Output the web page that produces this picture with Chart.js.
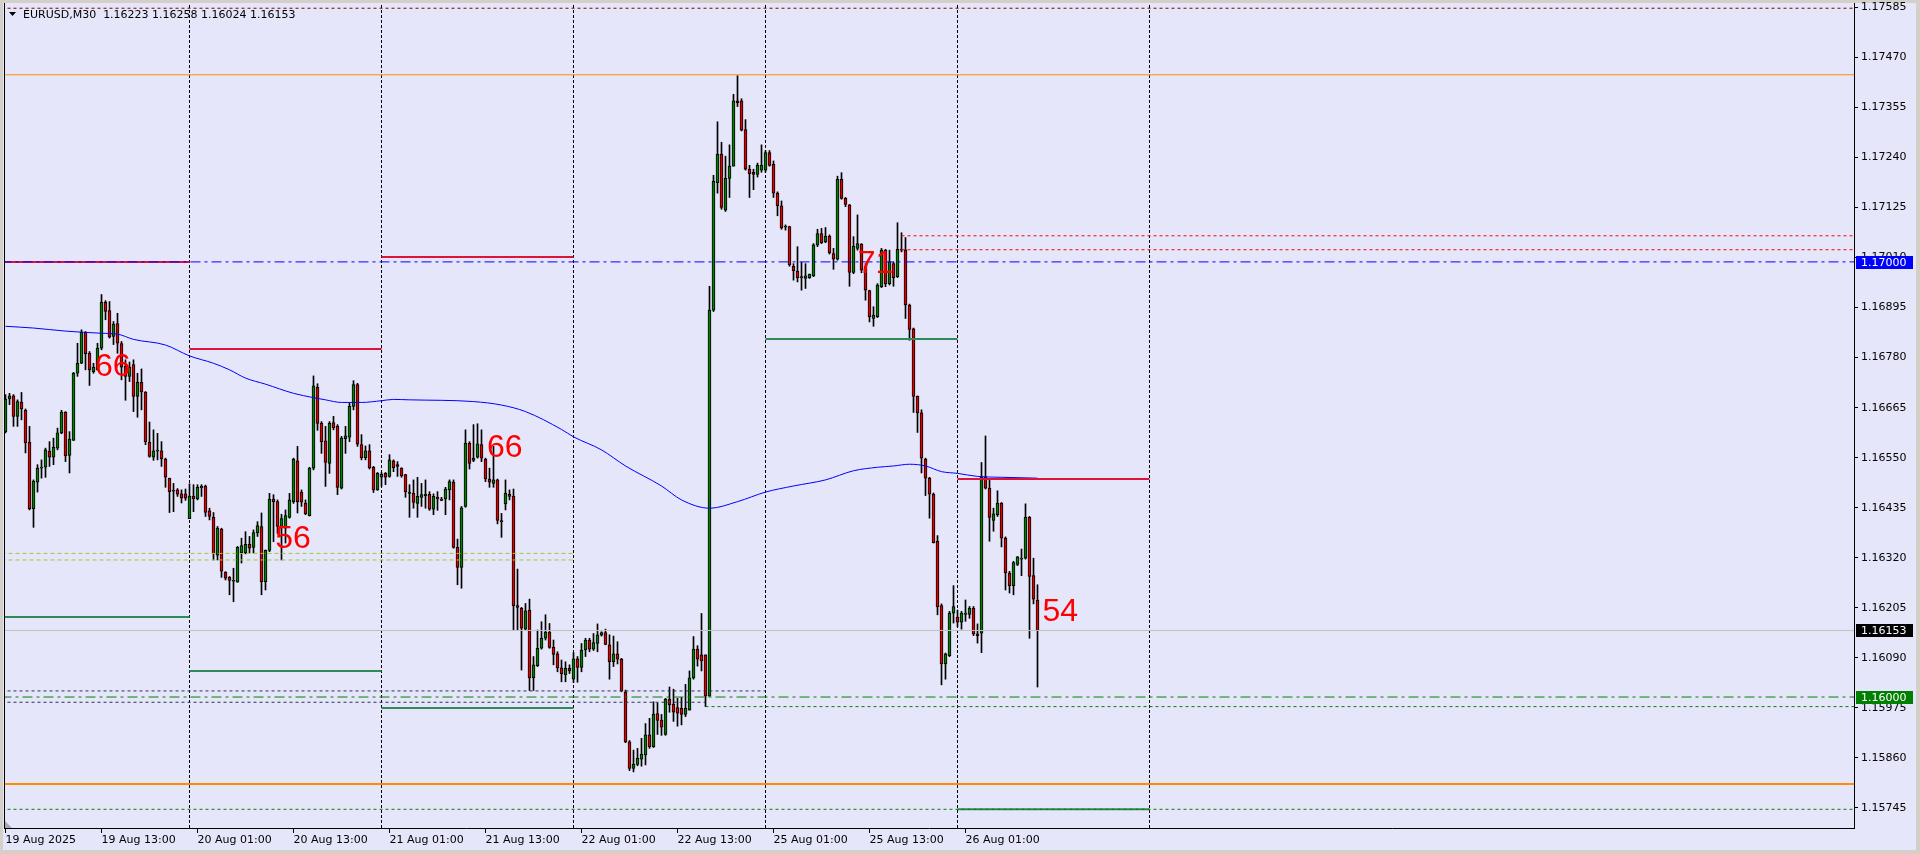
<!DOCTYPE html>
<html>
<head>
<meta charset="utf-8">
<title>EURUSD,M30</title>
<script src="https://cdn.jsdelivr.net/npm/chart.js@4.4.1/dist/chart.umd.min.js"></script>
<style>
    html, body { margin: 0; padding: 0; background: #E6E6FA; overflow: hidden; }
    #wrap { width: 1920px; height: 854px; }
</style>
</head>
<body>
<div id="wrap"><canvas id="priceChart" width="1920" height="854"></canvas></div>
<script>
// EURUSD M30 bars, 19 Aug 2025 01:00 .. 26 Aug 2025 10:00
const open = [
    1.16610,1.16685,1.16692,1.16645,1.16678,1.16659,1.16586,1.16433,1.16494,1.16526,
    1.16528,1.16565,1.16551,1.16572,1.16607,1.16654,1.16555,1.16590,1.16744,1.16767,
    1.16838,1.16790,1.16748,1.16752,1.16802,1.16907,1.16888,1.16829,1.16858,1.16812,
    1.16760,1.16737,1.16764,1.16691,1.16723,1.16701,1.16586,1.16551,1.16565,1.16566,
    1.16547,1.16503,1.16475,1.16476,1.16467,1.16467,1.16410,1.16462,1.16455,1.16481,
    1.16485,1.16428,1.16413,1.16326,1.16386,1.16287,1.16275,1.16266,1.16264,1.16332,
    1.16331,1.16351,1.16344,1.16377,1.16392,1.16265,1.16337,1.16455,1.16449,1.16392,
    1.16388,1.16413,1.16449,1.16543,1.16471,1.16445,1.16417,1.16526,1.16712,1.16629,
    1.16589,1.16537,1.16631,1.16622,1.16480,1.16594,1.16597,1.16668,1.16718,1.16580,
    1.16550,1.16566,1.16528,1.16476,1.16505,1.16514,1.16507,1.16543,1.16534,1.16526,
    1.16511,1.16468,1.16468,1.16445,1.16459,1.16463,1.16466,1.16432,1.16459,1.16455,
    1.16455,1.16476,1.16494,1.16344,1.16298,1.16438,1.16583,1.16544,1.16551,1.16580,
    1.16547,1.16501,1.16491,1.16499,1.16405,1.16444,1.16466,1.16462,1.16210,1.16204,
    1.16156,1.16200,1.16044,1.16072,1.16112,1.16135,1.16149,1.16114,1.16099,1.16067,
    1.16051,1.16066,1.16041,1.16088,1.16068,1.16108,1.16131,1.16110,1.16123,1.16142,
    1.16148,1.16120,1.16081,1.16099,1.16087,1.16012,1.15897,1.15836,1.15845,1.15857,
    1.15867,1.15913,1.15886,1.15962,1.15947,1.15914,1.15995,1.15984,1.15976,1.15974,
    1.15960,1.15970,1.16044,1.16110,1.16097,1.16097,1.16002,1.16889,1.17182,1.17248,
    1.17119,1.17192,1.17220,1.17370,1.17370,1.17304,1.17213,1.17206,1.17201,1.17211,
    1.17211,1.17251,1.17224,1.17158,1.17129,1.17080,1.17081,1.16990,1.16979,1.16966,
    1.16962,1.16964,1.16968,1.17039,1.17065,1.17046,1.17059,1.17019,1.17006,1.17190,
    1.17146,1.17131,1.16976,1.17031,1.17041,1.16989,1.16934,1.16870,1.16874,1.16943,
    1.17027,1.16950,1.16996,1.16966,1.17029,1.17027,1.16901,1.16846,1.16691,1.16653,
    1.16547,1.16503,1.16466,1.16358,1.16210,1.16076,1.16095,1.16193,1.16184,1.16172,
    1.16190,1.16190,1.16204,1.16145,1.16147,1.16505,1.16480,1.16406,1.16419,1.16446,
    1.16365,1.16285,1.16256,1.16305,1.16317,1.16319,1.16413,1.16279,1.16223
];
const high = [
    1.16695,1.16698,1.16695,1.16683,1.16700,1.16662,1.16622,1.16499,1.16534,1.16545,
    1.16572,1.16587,1.16595,1.16618,1.16659,1.16656,1.16610,1.16746,1.16813,1.16844,
    1.16840,1.16794,1.16767,1.16813,1.16925,1.16911,1.16909,1.16863,1.16882,1.16817,
    1.16775,1.16770,1.16775,1.16744,1.16754,1.16702,1.16632,1.16614,1.16606,1.16587,
    1.16549,1.16503,1.16491,1.16479,1.16476,1.16478,1.16490,1.16488,1.16488,1.16488,
    1.16487,1.16434,1.16424,1.16392,1.16388,1.16288,1.16277,1.16296,1.16346,1.16365,
    1.16380,1.16369,1.16384,1.16403,1.16423,1.16338,1.16468,1.16465,1.16453,1.16420,
    1.16430,1.16468,1.16549,1.16576,1.16476,1.16453,1.16528,1.16738,1.16720,1.16633,
    1.16622,1.16633,1.16645,1.16626,1.16599,1.16622,1.16675,1.16727,1.16721,1.16603,
    1.16577,1.16580,1.16530,1.16516,1.16516,1.16516,1.16557,1.16545,1.16541,1.16527,
    1.16512,1.16488,1.16499,1.16505,1.16491,1.16499,1.16472,1.16467,1.16472,1.16459,
    1.16482,1.16499,1.16499,1.16363,1.16438,1.16614,1.16587,1.16626,1.16628,1.16614,
    1.16549,1.16526,1.16576,1.16501,1.16422,1.16499,1.16476,1.16478,1.16294,1.16206,
    1.16215,1.16225,1.16093,1.16154,1.16173,1.16189,1.16169,1.16131,1.16104,1.16085,
    1.16081,1.16074,1.16102,1.16093,1.16123,1.16135,1.16135,1.16146,1.16168,1.16150,
    1.16156,1.16143,1.16140,1.16127,1.16089,1.16016,1.15900,1.15878,1.15882,1.15905,
    1.15939,1.15951,1.15989,1.15986,1.15960,1.15997,1.16023,1.16018,1.15997,1.15999,
    1.16029,1.16060,1.16139,1.16118,1.16192,1.16097,1.16944,1.17199,1.17322,1.17275,
    1.17243,1.17269,1.17385,1.17428,1.17375,1.17327,1.17222,1.17213,1.17227,1.17269,
    1.17256,1.17256,1.17232,1.17161,1.17140,1.17085,1.17082,1.16996,1.17035,1.16999,
    1.16996,1.16972,1.17042,1.17075,1.17077,1.17079,1.17062,1.17031,1.17197,1.17205,
    1.17148,1.17132,1.17058,1.17108,1.17042,1.16996,1.16935,1.16897,1.16950,1.17031,
    1.17029,1.17027,1.17000,1.17090,1.17067,1.17056,1.16903,1.16848,1.16692,1.16660,
    1.16549,1.16505,1.16469,1.16371,1.16214,1.16101,1.16197,1.16256,1.16200,1.16197,
    1.16223,1.16208,1.16208,1.16168,1.16539,1.16600,1.16499,1.16434,1.16474,1.16447,
    1.16368,1.16289,1.16312,1.16323,1.16340,1.16444,1.16415,1.16319,1.16258
];
const low = [
    1.16607,1.16672,1.16622,1.16622,1.16637,1.16561,1.16430,1.16390,1.16471,1.16503,
    1.16505,1.16530,1.16534,1.16568,1.16605,1.16541,1.16515,1.16590,1.16737,1.16766,
    1.16752,1.16716,1.16744,1.16751,1.16798,1.16867,1.16825,1.16810,1.16790,1.16729,
    1.16682,1.16725,1.16656,1.16643,1.16660,1.16580,1.16551,1.16544,1.16545,1.16530,
    1.16482,1.16424,1.16426,1.16461,1.16446,1.16452,1.16410,1.16426,1.16453,1.16461,
    1.16415,1.16407,1.16315,1.16315,1.16275,1.16269,1.16235,1.16219,1.16264,1.16308,
    1.16329,1.16331,1.16331,1.16369,1.16235,1.16246,1.16334,1.16357,1.16376,1.16315,
    1.16354,1.16411,1.16445,1.16423,1.16438,1.16419,1.16416,1.16522,1.16613,1.16560,
    1.16484,1.16514,1.16614,1.16465,1.16478,1.16560,1.16587,1.16660,1.16576,1.16545,
    1.16545,1.16524,1.16470,1.16475,1.16484,1.16488,1.16505,1.16518,1.16507,1.16505,
    1.16459,1.16413,1.16434,1.16413,1.16438,1.16434,1.16429,1.16419,1.16429,1.16451,
    1.16419,1.16453,1.16342,1.16258,1.16250,1.16436,1.16524,1.16541,1.16549,1.16541,
    1.16495,1.16482,1.16482,1.16398,1.16367,1.16430,1.16453,1.16154,1.16154,1.16062,
    1.16154,1.16015,1.16015,1.16070,1.16110,1.16131,1.16112,1.16074,1.16058,1.16035,
    1.16035,1.16054,1.16033,1.16034,1.16058,1.16093,1.16104,1.16107,1.16104,1.16140,
    1.16120,1.16041,1.16070,1.16076,1.16012,1.15895,1.15831,1.15828,1.15842,1.15841,
    1.15844,1.15882,1.15884,1.15914,1.15912,1.15912,1.15965,1.15944,1.15933,1.15936,
    1.15955,1.15970,1.16041,1.16071,1.16060,1.15978,1.16002,1.16886,1.17158,1.17121,
    1.17116,1.17148,1.17220,1.17357,1.17301,1.17211,1.17148,1.17166,1.17195,1.17206,
    1.17206,1.17220,1.17148,1.17106,1.17075,1.17073,1.16990,1.16958,1.16954,1.16935,
    1.16939,1.16962,1.16966,1.17035,1.17042,1.17044,1.17018,1.16983,1.17004,1.17144,
    1.17127,1.16944,1.16973,1.17027,1.16975,1.16912,1.16862,1.16852,1.16872,1.16941,
    1.16943,1.16947,1.16944,1.16964,1.17023,1.16870,1.16820,1.16654,1.16608,1.16515,
    1.16463,1.16411,1.16354,1.16189,1.16028,1.16041,1.16093,1.16170,1.16162,1.16156,
    1.16174,1.16181,1.16141,1.16124,1.16102,1.16478,1.16358,1.16381,1.16415,1.16345,
    1.16246,1.16239,1.16235,1.16302,1.16279,1.16317,1.16135,1.16214,1.16023
];
const close = [
    1.16685,1.16692,1.16645,1.16679,1.16662,1.16584,1.16433,1.16496,1.16526,1.16528,
    1.16568,1.16551,1.16574,1.16607,1.16655,1.16554,1.16593,1.16744,1.16767,1.16838,
    1.16789,1.16752,1.16758,1.16802,1.16907,1.16886,1.16827,1.16857,1.16813,1.16758,
    1.16737,1.16758,1.16691,1.16723,1.16701,1.16587,1.16553,1.16566,1.16567,1.16547,
    1.16505,1.16472,1.16473,1.16466,1.16457,1.16457,1.16462,1.16455,1.16482,1.16484,
    1.16424,1.16415,1.16329,1.16388,1.16289,1.16273,1.16268,1.16267,1.16344,1.16348,
    1.16351,1.16342,1.16378,1.16394,1.16265,1.16337,1.16455,1.16449,1.16392,1.16410,
    1.16417,1.16453,1.16547,1.16449,1.16448,1.16421,1.16526,1.16715,1.16629,1.16587,
    1.16539,1.16629,1.16619,1.16482,1.16595,1.16600,1.16668,1.16718,1.16581,1.16550,
    1.16566,1.16527,1.16476,1.16514,1.16512,1.16505,1.16545,1.16527,1.16530,1.16509,
    1.16472,1.16471,1.16447,1.16461,1.16465,1.16466,1.16432,1.16461,1.16455,1.16452,
    1.16478,1.16495,1.16344,1.16298,1.16435,1.16583,1.16537,1.16549,1.16582,1.16549,
    1.16501,1.16494,1.16499,1.16406,1.16403,1.16468,1.16461,1.16210,1.16206,1.16158,
    1.16198,1.16044,1.16074,1.16112,1.16135,1.16149,1.16114,1.16098,1.16067,1.16053,
    1.16066,1.16060,1.16088,1.16068,1.16108,1.16131,1.16110,1.16125,1.16143,1.16148,
    1.16121,1.16081,1.16099,1.16087,1.16014,1.15897,1.15836,1.15846,1.15859,1.15869,
    1.15913,1.15886,1.15961,1.15946,1.15931,1.15995,1.15982,1.15965,1.15963,1.15960,
    1.15974,1.16044,1.16110,1.16087,1.16083,1.16002,1.16889,1.17185,1.17248,1.17125,
    1.17192,1.17220,1.17370,1.17366,1.17303,1.17213,1.17203,1.17201,1.17222,1.17222,
    1.17251,1.17222,1.17158,1.17129,1.17078,1.17081,1.16993,1.16980,1.16964,1.16963,
    1.16968,1.16972,1.17039,1.17065,1.17044,1.17059,1.17021,1.17006,1.17190,1.17146,
    1.17132,1.16976,1.17036,1.17042,1.16981,1.16935,1.16874,1.16878,1.16947,1.17027,
    1.16950,1.17000,1.16964,1.17029,1.17027,1.16901,1.16845,1.16691,1.16653,1.16549,
    1.16503,1.16466,1.16355,1.16207,1.16076,1.16099,1.16193,1.16208,1.16172,1.16193,
    1.16193,1.16204,1.16145,1.16141,1.16505,1.16480,1.16413,1.16421,1.16446,1.16365,
    1.16285,1.16256,1.16309,1.16322,1.16319,1.16413,1.16277,1.16225,1.16153
];

// moving average, read at bar index
const maIdx = [0,7,15,24,28,32,40,46,52,56,60,65,72,77,80,84,89,94,97,101,117,124,130,139,142,149,155,164,169,176,183,190,197,205,212,218,222,226,230,234,238,243,249,258];
const maVal = [1.16852,1.16848,1.16841,1.16836,1.16834,1.16822,1.16809,1.16784,1.16767,1.16752,1.16733,1.16719,1.16698,1.16688,1.16683,1.16677,1.16677,1.16681,1.16684,1.16683,1.16679,1.16671,1.16656,1.16615,1.16598,1.16568,1.16531,1.16485,1.16453,1.16434,1.16449,1.16471,1.16485,1.16499,1.16520,1.16528,1.16531,1.16535,1.16531,1.16518,1.16514,1.16507,1.16505,1.16503];

// time axis
const xTickIdx = [0,24,48,72,96,120,144,168,192,216,240];
const xTickLabels = ['19 Aug 2025','19 Aug 13:00','20 Aug 01:00','20 Aug 13:00','21 Aug 01:00','21 Aug 13:00','22 Aug 01:00','22 Aug 13:00','25 Aug 01:00','25 Aug 13:00','26 Aug 01:00'];
const separatorIdx = [46,94,142,190,238,286];

// price axis
const yTicks = [1.17585,1.17470,1.17355,1.17240,1.17125,1.17010,1.16895,1.16780,1.16665,1.16550,1.16435,1.16320,1.16205,1.16090,1.15975,1.15860,1.15745];

// horizontal levels (kind, price, from bar, to bar)
const levelKind  = ['orange1','maroonDash','blueDashDot','bid','greenDashDot','orange2','greenDash','navyDash','navyDash','greenDash','ygDash','ygDash','redDot','redDot','dayHigh','dayLow','dayHigh','dayLow','dayHigh','dayLow','dayLow','dayHigh','dayLow'];
const levelPrice = [1.17430,1.17583,1.17000,1.16153,1.16000,1.15800,1.15742,1.16014,1.15988,1.15978,1.16330,1.16315,1.17060,1.17028,1.17000,1.16184,1.16800,1.16060,1.17011,1.15975,1.16823,1.16501,1.15742];
const levelFrom  = [-1,-1,-1,-1,-1,-1,-1,-1,-1,175,-1,-1,224,224,-1,-1,46,46,94,94,190,238,238];
const levelTo    = [470,470,470,470,470,470,470,190,175,470,142,142,470,470,46,46,94,94,142,142,238,286,286];

// price tags on the axis
const tagPrice = [1.17000,1.16153,1.16000];
const tagText  = ['1.17000','1.16153','1.16000'];

// red counters drawn on the chart
const numText  = ['66','56','66','71','54'];
const numIdx   = [26.8,71.9,124.8,217.5,263.7];
const numPrice = [1.16757,1.16363,1.16572,1.16995,1.16195];

const titleText = 'EURUSD,M30  1.16223 1.16258 1.16024 1.16153';

document.addEventListener('DOMContentLoaded', function() {
    const X_MIN = -0.375, X_MAX = 462.125;
    const Y_MIN = 1.15699, Y_MAX = 1.17595;
    const FONT = '"DejaVu Sans", Verdana, sans-serif';

    const styles = {
        orange1:      { color: '#FF8C00', width: 1, dash: [] },
        orange2:      { color: '#FF8C00', width: 2, dash: [] },
        maroonDash:   { color: '#800000', width: 1, dash: [3, 3] },
        blueDashDot:  { color: '#0000FF', width: 1, dash: [10, 4, 3, 4] },
        bid:          { color: '#C0C0C0', width: 1, dash: [] },
        greenDashDot: { color: '#008000', width: 1, dash: [10, 4, 3, 4] },
        greenDash:    { color: '#008000', width: 1, dash: [3, 3] },
        navyDash:     { color: '#27344F', width: 1, dash: [3, 3] },
        ygDash:       { color: '#9ACD32', width: 1, dash: [4, 3] },
        redDot:       { color: '#FF0000', width: 1, dash: [3, 3] },
        dayHigh:      { color: '#DC143C', width: 2, dash: [] },
        dayLow:       { color: '#2E8B57', width: 2, dash: [] }
    };
    const tagColors = ['#0000FF', '#000000', '#008000'];

    const bodies = open.map((o, i) => ({ x: i, y: [o, close[i]] }));
    const wicks = low.map((l, i) => ({ x: i, y: [l, high[i]] }));
    const bodyColors = open.map((o, i) => close[i] >= o ? '#008000' : '#E00000');

    const datasets = [];
    levelKind.forEach((kind, k) => {
        const s = styles[kind];
        datasets.push({
            type: 'line',
            data: [{ x: levelFrom[k], y: levelPrice[k] }, { x: levelTo[k], y: levelPrice[k] }],
            borderColor: s.color,
            borderWidth: s.width,
            borderDash: s.dash,
            pointRadius: 0,
            order: 1
        });
    });
    datasets.push({
        type: 'line',
        data: maIdx.map((x, k) => ({ x: x, y: maVal[k] })),
        borderColor: '#0000FF',
        borderWidth: 1,
        pointRadius: 0,
        cubicInterpolationMode: 'monotone',
        order: 2
    });
    datasets.push({
        type: 'bar',
        data: bodies,
        backgroundColor: bodyColors,
        borderColor: '#000000',
        borderWidth: 1,
        borderSkipped: false,
        barThickness: 3,
        minBarLength: 1,
        grouped: false,
        order: 3
    });
    datasets.push({
        type: 'bar',
        data: wicks,
        backgroundColor: '#000000',
        borderWidth: 0,
        barThickness: 1,
        grouped: false,
        order: 4
    });
    separatorIdx.forEach(function(s) {
        datasets.push({
            type: 'line',
            data: [{ x: s, y: Y_MIN }, { x: s, y: Y_MAX }],
            borderColor: '#000000',
            borderWidth: 1,
            borderDash: [3, 2],
            pointRadius: 0,
            order: 5
        });
    });

    const background = {
        id: 'mtBackground',
        beforeDraw(chart) {
            const ctx = chart.ctx;
            ctx.save();
            ctx.fillStyle = '#D4D0C8';
            ctx.fillRect(0, 0, chart.width, chart.height);
            ctx.fillStyle = '#E6E6FA';
            ctx.fillRect(3, 3, chart.width - 7, chart.height - 7);
            ctx.restore();
        }
    };

    const overlay = {
        id: 'mtOverlay',
        afterDatasetsDraw(chart) {
            const ctx = chart.ctx;
            const xs = chart.scales.x, ys = chart.scales.y;
            ctx.save();
            ctx.fillStyle = '#FF0000';
            ctx.font = '32px "Liberation Sans", Arial, sans-serif';
            ctx.textAlign = 'center';
            ctx.textBaseline = 'middle';
            numText.forEach((t, k) => {
                ctx.fillText(t, xs.getPixelForValue(numIdx[k]), ys.getPixelForValue(numPrice[k]));
            });
            ctx.restore();
        },
        afterDraw(chart) {
            const ctx = chart.ctx;
            const a = chart.chartArea;
            const ys = chart.scales.y;
            ctx.save();
            // frame
            ctx.strokeStyle = '#000000';
            ctx.lineWidth = 1;
            ctx.beginPath();
            ctx.moveTo(a.left + 0.5, a.top);
            ctx.lineTo(a.left + 0.5, a.bottom);
            ctx.stroke();
            // chart shift marker in the lower left corner
            ctx.fillStyle = '#A9A9A9';
            ctx.beginPath();
            ctx.moveTo(a.left + 1, a.bottom - 7);
            ctx.lineTo(a.left + 1, a.bottom);
            ctx.lineTo(a.left + 8, a.bottom);
            ctx.closePath();
            ctx.fill();
            // title
            ctx.fillStyle = '#000000';
            ctx.beginPath();
            ctx.moveTo(9, 12);
            ctx.lineTo(16, 12);
            ctx.lineTo(12.5, 16);
            ctx.closePath();
            ctx.fill();
            ctx.font = '11px ' + FONT;
            ctx.textBaseline = 'alphabetic';
            ctx.textAlign = 'left';
            ctx.fillText(titleText, 23, 18);
            // price tags
            ctx.textBaseline = 'middle';
            tagPrice.forEach((p, k) => {
                const y = Math.round(ys.getPixelForValue(p));
                ctx.fillStyle = tagColors[k];
                ctx.fillRect(a.right + 2, y - 6, 57, 13);
                ctx.fillStyle = '#FFFFFF';
                ctx.fillText(tagText[k], a.right + 7, y + 1);
            });
            ctx.restore();
        }
    };

    const ctx = document.getElementById('priceChart').getContext('2d');
    new Chart(ctx, {
        type: 'bar',
        data: { datasets: datasets },
        plugins: [background, overlay],
        options: {
            responsive: false,
            animation: false,
            devicePixelRatio: 1,
            events: [],
            layout: { padding: { left: 4, top: 3, right: 0, bottom: 0 } },
            plugins: { legend: { display: false }, tooltip: { enabled: false } },
            scales: {
                x: {
                    type: 'linear',
                    min: X_MIN,
                    max: X_MAX,
                    offset: false,
                    grid: { display: true, drawOnChartArea: false, drawTicks: true, tickLength: 5, color: '#000000', offset: false },
                    border: { display: true, color: '#000000' },
                    ticks: {
                        autoSkip: false,
                        maxRotation: 0,
                        align: 'start',
                        padding: 1,
                        color: '#000000',
                        font: { family: FONT, size: 11 },
                        callback: function(value) {
                            const k = xTickIdx.indexOf(value);
                            return k >= 0 ? xTickLabels[k] : '';
                        }
                    },
                    afterBuildTicks: function(scale) {
                        scale.ticks = xTickIdx.map(v => ({ value: v }));
                    },
                    afterFit: function(scale) {
                        scale.height = 26;
                        scale.paddingLeft = 0;
                        scale.paddingRight = 0;
                    }
                },
                y: {
                    type: 'linear',
                    position: 'right',
                    min: Y_MIN,
                    max: Y_MAX,
                    grid: { display: true, drawOnChartArea: false, drawTicks: true, tickLength: 4, color: '#000000' },
                    border: { display: true, color: '#000000' },
                    ticks: {
                        autoSkip: false,
                        padding: 3,
                        color: '#000000',
                        font: { family: FONT, size: 11 },
                        callback: function(value) { return value.toFixed(5); }
                    },
                    afterBuildTicks: function(scale) {
                        scale.ticks = yTicks.map(v => ({ value: v }));
                    },
                    afterFit: function(scale) {
                        scale.width = 66;
                        scale.paddingTop = 0;
                        scale.paddingBottom = 0;
                    }
                }
            }
        }
    });
});
</script>
</body>
</html>
